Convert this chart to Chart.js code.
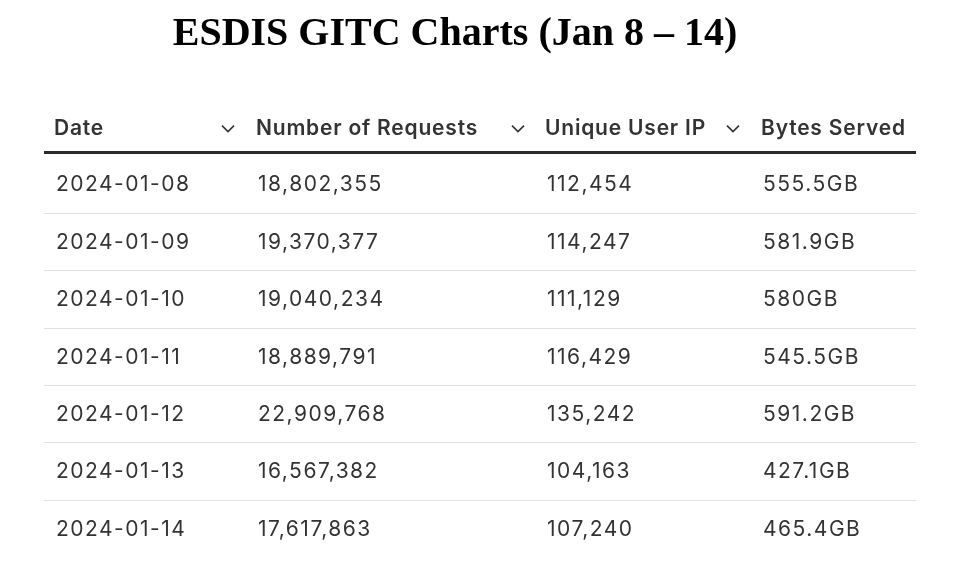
<!DOCTYPE html>
<html lang="en">
<head>
<meta charset="UTF-8">
<title>ESDIS GITC Charts</title>
<script src="https://cdn.jsdelivr.net/npm/chart.js"></script>
<style>
  body { margin: 0; background: #fff; }
  .chart-container { position: relative; width: 955px; height: 573px; }
</style>
</head>
<body>
<div class="chart-container"><canvas id="tableChart"></canvas></div>
<script>
// Table data
const title = 'ESDIS GITC Charts (Jan 8 \u2013 14)';
const headers = ['Date', 'Number of Requests', 'Unique User IP', 'Bytes Served'];
const dates = ['2024-01-08', '2024-01-09', '2024-01-10', '2024-01-11', '2024-01-12', '2024-01-13', '2024-01-14'];
const requests = ['18,802,355', '19,370,377', '19,040,234', '18,889,791', '22,909,768', '16,567,382', '17,617,863'];
const uniqueIps = ['112,454', '114,247', '111,129', '116,429', '135,242', '104,163', '107,240'];
const bytesServed = ['555.5GB', '581.9GB', '580GB', '545.5GB', '591.2GB', '427.1GB', '465.4GB'];

// Column layout (x positions on the 0..955 x scale)
const colX = [56, 258, 547, 763];
const chevronX = [228, 518, 733];
const columns = [dates, requests, uniqueIps, bytesServed];

const tablePlugin = {
  id: 'tablePlugin',
  afterDraw(chart) {
    const { ctx, scales: { x, y } } = chart;
    ctx.save();

    // Title
    ctx.fillStyle = '#000';
    ctx.font = 'bold 40px "Liberation Serif", "Times New Roman", serif';
    ctx.textAlign = 'center';
    ctx.textBaseline = 'middle';
    ctx.fillText(title, x.getPixelForValue(455), 35);

    // Header row
    const hy = y.getPixelForValue(-1) + 2;
    ctx.textAlign = 'left';
    ctx.fillStyle = '#333';
    ctx.font = '600 21px Inter, "Noto Sans", sans-serif';
    ctx.letterSpacing = '0.8px';
    headers.forEach((h, i) => ctx.fillText(h, x.getPixelForValue(colX[i] - 2), hy));
    ctx.letterSpacing = '0px';

    // Chevrons
    ctx.strokeStyle = '#333';
    ctx.lineWidth = 1.6;
    chevronX.forEach((cx) => {
      const px = x.getPixelForValue(cx);
      ctx.beginPath();
      ctx.moveTo(px - 6, hy - 3);
      ctx.lineTo(px, hy + 3);
      ctx.lineTo(px + 6, hy - 3);
      ctx.stroke();
    });

    const left = x.getPixelForValue(44);
    const right = x.getPixelForValue(916);

    // Header underline
    ctx.strokeStyle = '#2b2b2b';
    ctx.lineWidth = 3;
    const hl = y.getPixelForValue(-0.55);
    ctx.beginPath(); ctx.moveTo(left, hl); ctx.lineTo(right, hl); ctx.stroke();

    // Row separators
    ctx.strokeStyle = '#e2e2e2';
    ctx.lineWidth = 1;
    for (let r = 0; r < dates.length - 1; r++) {
      const ly = Math.round(y.getPixelForValue(r + 0.5)) + 0.5;
      ctx.beginPath(); ctx.moveTo(left, ly); ctx.lineTo(right, ly); ctx.stroke();
    }

    // Cells
    ctx.fillStyle = '#333';
    ctx.font = '21px Inter, "Noto Sans", sans-serif';
    ctx.letterSpacing = '1.5px';
    columns.forEach((col, c) => {
      col.forEach((val, r) => {
        ctx.fillText(val, x.getPixelForValue(colX[c]), y.getPixelForValue(r) + 1);
      });
    });

    ctx.restore();
  }
};

new Chart(document.getElementById('tableChart'), {
  type: 'scatter',
  data: { datasets: [{ data: [], pointRadius: 0 }] },
  options: {
    responsive: true,
    maintainAspectRatio: false,
    animation: false,
    layout: { padding: { top: 98, bottom: 16, left: 0, right: 0 } },
    plugins: { legend: { display: false }, tooltip: { enabled: false } },
    scales: {
      x: { type: 'linear', min: 0, max: 955, display: false },
      y: { type: 'linear', min: -1.5, max: 6.5, reverse: true, display: false }
    }
  },
  plugins: [tablePlugin]
});
</script>
</body>
</html>
